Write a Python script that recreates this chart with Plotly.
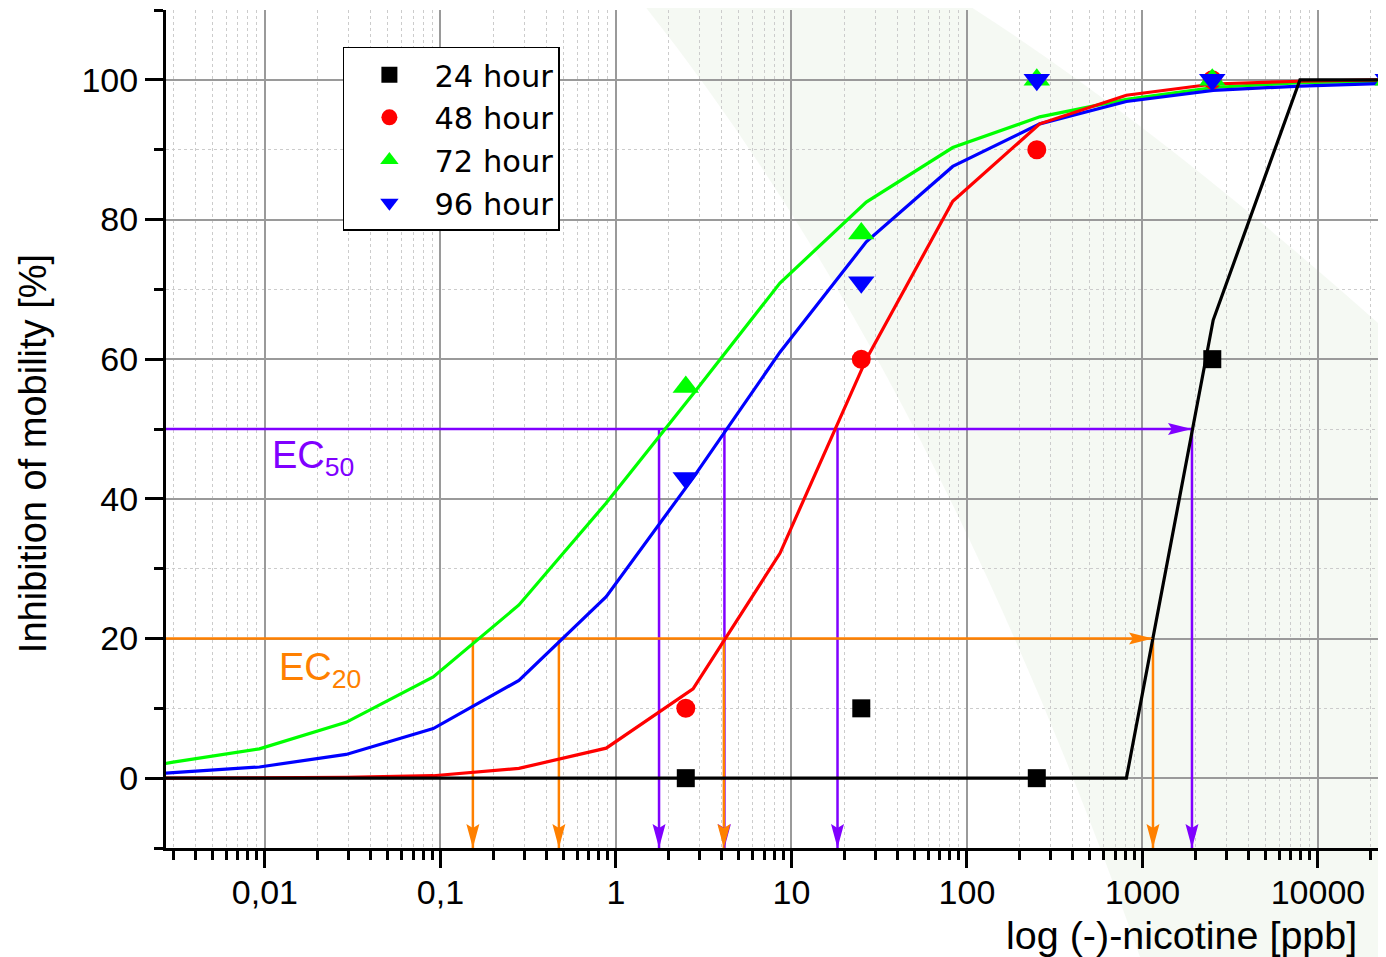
import math
import plotly.graph_objects as go

# ---------------- data ----------------
conc = [2.5, 25, 250, 2500, 25000]                 # ppb, measured concentrations
h24 = [0, 10, 0, 60, 100]
h48 = [10, 60, 90, 100, 100]
h72 = [56, 78, 100, 100, 100]
h96 = [43, 71, 100, 100, 100]

fit_conc = [0.0027, 0.003, 0.0093, 0.029, 0.091, 0.28, 0.88, 2.75, 8.6, 26.7,
            83, 260, 810, 2530, 7900, 24600]
fit24 = [0, 0, 0, 0, 0, 0, 0, 0, 0, 0, 0, 0, 0, 65.6, 100, 100]
fit48 = [0, 0, 0.05, 0.1, 0.35, 1.4, 4.3, 12.8, 32.2, 60.0, 82.6, 93.7, 97.8, 99.4, 99.8, 100]
fit72 = [2.1, 2.3, 4.2, 8.0, 14.5, 24.8, 39.4, 55.0, 70.9, 82.5, 90.3, 94.7, 97.2, 98.9, 99.6, 99.8]
fit96 = [0.7, 0.8, 1.6, 3.4, 7.1, 14.0, 26.0, 43.0, 61.0, 76.8, 87.6, 93.7, 96.9, 98.5, 99.1, 99.5]

ec50 = [1.76, 4.15, 18.3, 1915]     # 72 h, 96 h, 48 h, 24 h
ec20 = [0.153, 0.473, 4.12, 1148]
ec50_level = 50
ec20_level = 20

x_ticks = [0.01, 0.1, 1, 10, 100, 1000, 10000]
x_ticktext = ["0,01", "0,1", "1", "10", "100", "1000", "10000"]
x_range = [0.00273, 24420]
y_range = [-10, 110]

FONT = "Liberation Sans, Arial, sans-serif"
LEGFONT = "DejaVu Sans, sans-serif"
PURPLE = "#8000ff"
ORANGE = "#ff8000"

# plot-area geometry on the page (pixels) used for decoration placement
PX0, PX1, PY0, PY1 = 166, 1386, 10, 848
def paper(px, py):
    return (px - PX0) / (PX1 - PX0), (PY1 - py) / (PY1 - PY0)

fig = go.Figure()

# EC guide lines
def ec_lines(vals, level, color):
    xs, ys = [x_range[0], max(vals)], [level, level]
    for v in vals:
        xs += [None, v, v]
        ys += [None, level, y_range[0]]
    fig.add_trace(go.Scatter(x=xs, y=ys, mode="lines", line=dict(color=color, width=2.5),
                             showlegend=False, hoverinfo="skip"))

ec_lines(ec50, ec50_level, PURPLE)
ec_lines(ec20, ec20_level, ORANGE)

# fitted curves
for ys, col in [(fit72, "#00ff00"), (fit96, "#0000ff"), (fit48, "#ff0000"), (fit24, "#000000")]:
    fig.add_trace(go.Scatter(x=fit_conc, y=ys, mode="lines", line=dict(color=col, width=3.2),
                             showlegend=False, hoverinfo="skip"))

# measured points
for ys, name, sym, col, size in [(h24, "24 hour", "square", "#000000", 18),
                                  (h48, "48 hour", "circle", "#ff0000", 19),
                                  (h72, "72 hour", "triangle-up", "#00ff00", 23),
                                  (h96, "96 hour", "triangle-down", "#0000ff", 23)]:
    fig.add_trace(go.Scatter(x=conc, y=ys, mode="markers", name=name,
                             marker=dict(symbol=sym, color=col, size=size, line=dict(width=0))))

# arrowheads
shapes = []
def arrow_down(xv, color):
    shapes.append(dict(type="path", xref="x", yref="y", xsizemode="pixel", ysizemode="pixel",
                       xanchor=xv, yanchor=y_range[0], path="M0,0 L-6.5,24 L0,20 L6.5,24 Z",
                       fillcolor=color, line=dict(width=0), layer="above"))
def arrow_right(xv, yv, color):
    shapes.append(dict(type="path", xref="x", yref="y", xsizemode="pixel", ysizemode="pixel",
                       xanchor=xv, yanchor=yv, path="M0,0 L-24,6 L-20,0 L-24,-6 Z",
                       fillcolor=color, line=dict(width=0), layer="above"))
for v in ec50:
    arrow_down(v, PURPLE)
for v in ec20:
    arrow_down(v, ORANGE)
arrow_right(max(ec50), ec50_level, PURPLE)
arrow_right(max(ec20), ec20_level, ORANGE)

# faint watermark swoosh in the background
def P(px, py):
    x, y = paper(px, py)
    return f"{x:.4f},{y:.4f}"
swoosh = ("M" + P(640, 0) + " Q" + P(930, 362) + " " + P(1140, 957) +
          " L" + P(1386, 957) + " L" + P(1386, 330) + " Q" + P(1150, 120) + " " + P(960, 0) + " Z")
shapes.append(dict(type="path", xref="paper", yref="paper", layer="below", line=dict(width=0),
                   fillcolor="rgba(220,235,212,0.28)", path=swoosh))

minor_x = [m * 10 ** d for d in range(-3, 5) for m in range(2, 10)]

fig.update_layout(
    width=1378, height=949,
    margin=dict(l=158, r=0, t=2, b=109, autoexpand=False),
    paper_bgcolor="white", plot_bgcolor="white",
    font=dict(family=FONT, size=34, color="black"),
    shapes=shapes,
    showlegend=True,
    legend=dict(x=0.145, y=0.956, xanchor="left", yanchor="top",
                bgcolor="white", bordercolor="black", borderwidth=1.5,
                itemwidth=80,
                font=dict(family=LEGFONT, size=30.5, color="black")),
    xaxis=dict(type="log", range=[math.log10(x_range[0]), math.log10(x_range[1])],
               tickmode="array", tickvals=x_ticks, ticktext=x_ticktext,
               ticks="outside", ticklen=17, tickwidth=3, tickcolor="black",
               ticklabelstandoff=-5,
               showline=True, linecolor="black", linewidth=3,
               showgrid=True, gridcolor="#9a9a9a", gridwidth=1.5,
               tickfont=dict(family=FONT, size=34, color="black"),
               minor=dict(tickmode="array", tickvals=minor_x, ticks="outside", ticklen=9,
                          tickwidth=2.5, tickcolor="black", showgrid=True,
                          gridcolor="#cccccc", griddash="dot", gridwidth=1),
               zeroline=False),
    yaxis=dict(range=y_range, tick0=0, dtick=20,
               ticks="outside", ticklen=18, tickwidth=3, tickcolor="black",
               showline=True, linecolor="black", linewidth=3,
               showgrid=True, gridcolor="#9a9a9a", gridwidth=1.5,
               tickfont=dict(family=FONT, size=34, color="black"),
               minor=dict(dtick=10, tick0=0, ticks="outside", ticklen=9, tickwidth=2.5,
                          tickcolor="black", showgrid=True, gridcolor="#cccccc",
                          griddash="dot", gridwidth=1),
               zeroline=False),
    annotations=[
        dict(text="Inhibition of mobility [%]", xref="paper", yref="paper", x=0, y=0.470,
             xshift=-133, xanchor="center", yanchor="middle", textangle=-90, showarrow=False,
             font=dict(family=FONT, size=38, color="black")),
        dict(text="log (-)-nicotine [ppb]", xref="paper", yref="paper", x=0.9775, y=-0.1038,
             xanchor="right", yanchor="middle", showarrow=False,
             font=dict(family=FONT, size=39.5, color="black")),
        dict(text="EC<sub>50</sub>", xref="paper", yref="paper", x=0.0852, y=0.497,
             xanchor="left", yanchor="top", showarrow=False,
             font=dict(family=FONT, size=38, color=PURPLE)),
        dict(text="EC<sub>20</sub>", xref="paper", yref="paper", x=0.091, y=0.243,
             xanchor="left", yanchor="top", showarrow=False,
             font=dict(family=FONT, size=38, color=ORANGE)),
    ],
)

fig.write_html("out.html")
